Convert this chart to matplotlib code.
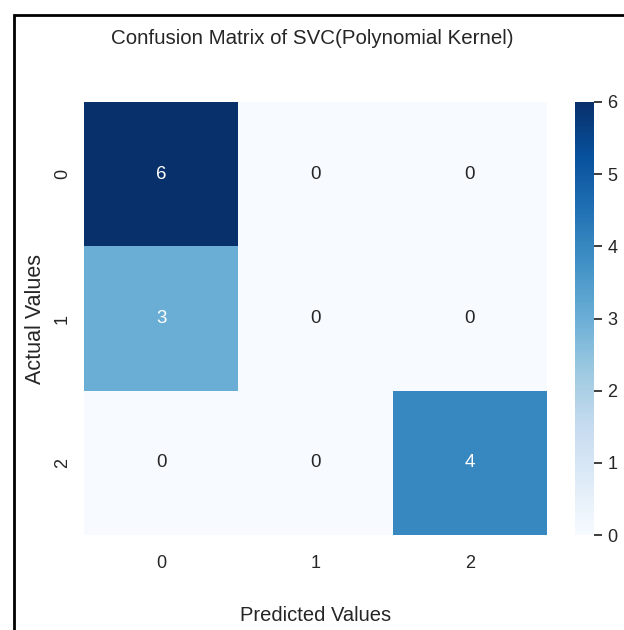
import numpy as np
import matplotlib
matplotlib.use("Agg")
import matplotlib.pyplot as plt
from matplotlib.patches import Rectangle
import seaborn as sns

# confusion matrix of the polynomial-kernel SVC
classes = ["0", "1", "2"]
cm = np.array([[6, 0, 0],
               [3, 0, 0],
               [0, 0, 4]])

plt.rcParams.update({
    'font.family': ['Liberation Sans', 'DejaVu Sans'],
    'text.color': '.15',
    'axes.labelcolor': '.15',
    'xtick.color': '.15',
    'ytick.color': '.15',
    'xtick.bottom': False,
    'ytick.left': False,
    'ytick.major.size': 6,
    'ytick.major.width': 1.25,
    'axes.grid': False,
})

W, H = 624, 630
fig = plt.figure(figsize=(W / 100, H / 100), dpi=100)
fig.patch.set_facecolor("white")

def px(x0, y0, x1, y1):
    return [x0 / W, 1 - y1 / H, (x1 - x0) / W, (y1 - y0) / H]

ax = fig.add_axes(px(84, 102, 547, 535))
cax = fig.add_axes(px(575, 102, 594, 535))

sns.heatmap(cm, annot=True, fmt="d", cmap="Blues", vmin=0, vmax=6,
            xticklabels=classes, yticklabels=classes,
            ax=ax, cbar_ax=cax, annot_kws={"size": 13.5})

fig.suptitle("Confusion Matrix of SVC(Polynomial Kernel)", fontsize=14.8,
             y=1 - 39 / H, va="center", color=".15")
ax.set_xlabel("Predicted Values", fontsize=14.5)
ax.set_ylabel("Actual Values", fontsize=15.5)
ax.xaxis.set_label_coords(0.5, -0.164)
ax.yaxis.set_label_coords(-0.083, 0.5)
ax.tick_params(axis="x", labelsize=13, pad=14.5, length=0)
ax.tick_params(axis="y", labelsize=13, pad=9.5, length=0)

# colorbar ticks on the right side
cax.tick_params(axis="y", right=True, length=6, width=1.25, color=".15",
                labelcolor=".15", labelsize=13, pad=3.5)
for side in cax.spines.values():
    side.set_visible(False)

# frame around the figure
fig.patches.append(Rectangle((13.5 / W, -0.1), 1.2, 1 - 14.5 / H + 0.1,
                             transform=fig.transFigure, fill=False,
                             edgecolor="black", linewidth=2))

fig.savefig("out.png", dpi=100)
